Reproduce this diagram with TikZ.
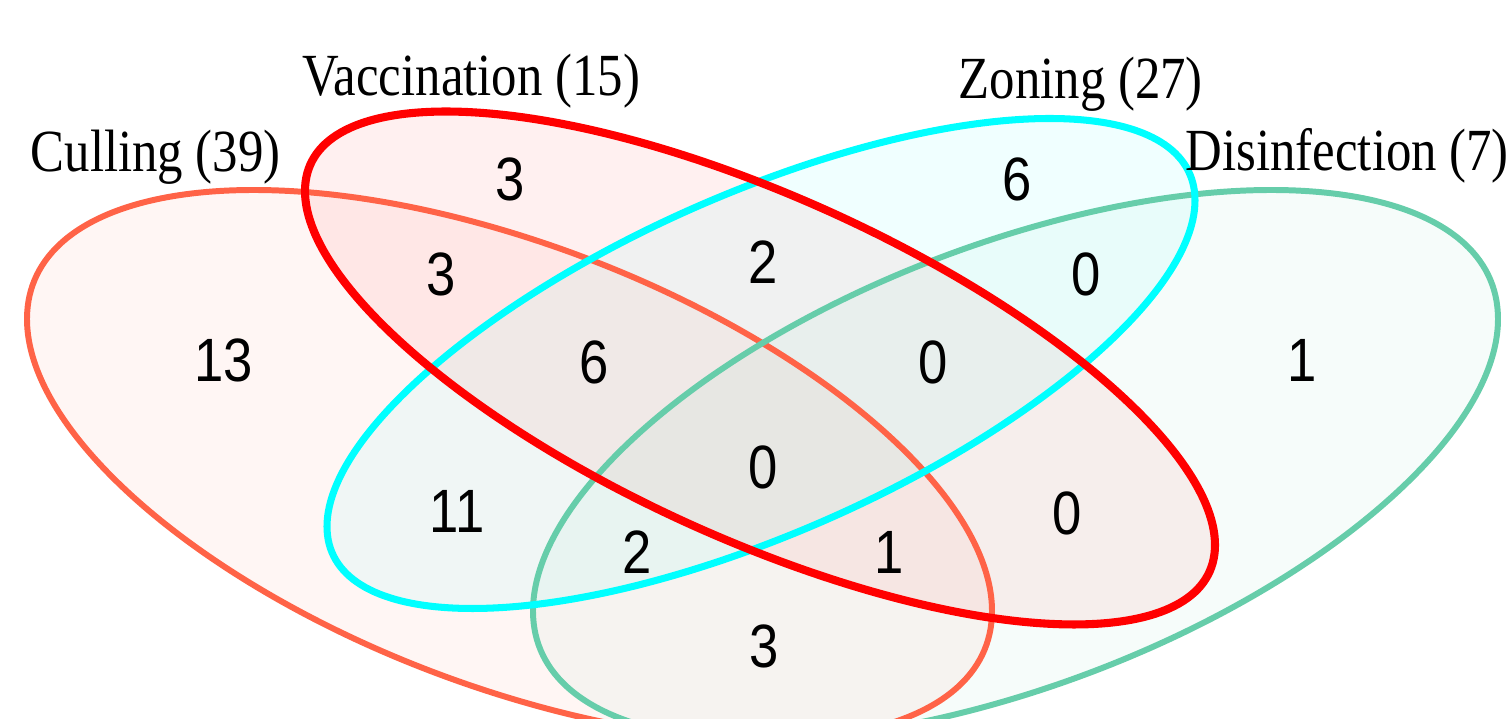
\documentclass[tikz,border=0pt]{standalone}
\usepackage{fontspec}
\newfontfamily\labfont[FakeStretch=0.85]{Liberation Serif}
\newfontfamily\numfont[FakeStretch=0.86]{Liberation Sans}
\definecolor{cTomato}{RGB}{255,99,71}
\definecolor{cRed}{RGB}{255,0,0}
\definecolor{cCyan}{RGB}{0,255,255}
\definecolor{cGreen}{RGB}{102,205,170}
\newcommand\vennshape[6]{%
  \path[shift={(#1,#2)}, x={(#3,#4)}, y={(0,#5)}, #6] (0,0) circle[radius=1];}
\begin{document}
\begin{tikzpicture}[x=0.01cm, y=-0.01cm,
  vfill/.style={fill=#1, fill opacity=0.06},
  vline/.style={draw=#1},
  lab/.style={font=\labfont\fontsize{17pt}{20pt}\selectfont, anchor=base west, inner sep=0pt},
  num/.style={font=\numfont\fontsize{17.4pt}{20pt}\selectfont, inner sep=0pt}]
\useasboundingbox (0,0) rectangle (1508,719);
\clip (0,0) rectangle (1508,719);
% fills
\vennshape{509.5}{465}{482.5}{146}{233}{vfill=cTomato}
\vennshape{760}{368}{455}{177}{185.6}{vfill=cRed}
\vennshape{761}{363.5}{434}{-163}{182.9}{vfill=cCyan}
\vennshape{1015.5}{465}{482.5}{-146}{233}{vfill=cGreen}
% outlines
\vennshape{509.5}{465}{482.5}{146}{233}{vline=cTomato, line width=1.7pt}
\vennshape{1015.5}{465}{482.5}{-146}{233}{vline=cGreen, line width=1.7pt}
\vennshape{761}{363.5}{434}{-163}{182.9}{vline=cCyan, line width=2.0pt}
\vennshape{760}{368}{455}{177}{185.6}{vline=cRed, line width=2.3pt}
% set labels
\node[lab] (lculling) at (30,172) {Culling (39)};
\node[lab] (lvacc) at (302,96) {Vaccination (15)};
\node[lab] (lzoning) at (958,99) {Zoning (27)};
\node[lab] (ldisinf) at (1185,171) {Disinfection (7)};
% region counts
\node[num] (n1) at (224,360) {13};
\node[num] (n2) at (510,179) {3};
\node[num] (n3) at (441,274) {3};
\node[num] (n4) at (763,262) {2};
\node[num] (n5) at (1017,179) {6};
\node[num] (n6) at (1086,274) {0};
\node[num] (n7) at (1302,360) {1};
\node[num] (n8) at (594,362) {6};
\node[num] (n9) at (933,362) {0};
\node[num] (n10) at (763,467) {0};
\node[num] (n11) at (457,511) {11};
\node[num] (n12) at (637,552) {2};
\node[num] (n13) at (889,552) {1};
\node[num] (n14) at (1067,513) {0};
\node[num] (n15) at (764,646) {3};
\end{tikzpicture}
\end{document}
